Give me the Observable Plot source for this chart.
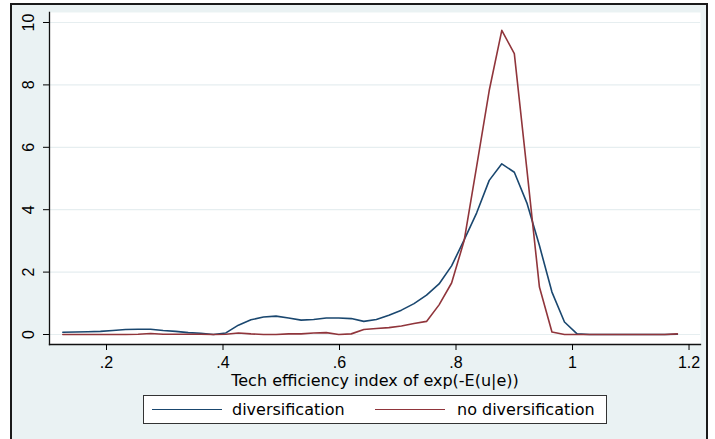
<!DOCTYPE html>
<html>
<head>
<meta charset="utf-8">
<script src="https://cdn.jsdelivr.net/npm/d3@7"></script>
<script src="https://cdn.jsdelivr.net/npm/@observablehq/plot@0.6"></script>
<style>
  body { margin: 0; background: #ffffff; }
  #wrap { position: relative; width: 715px; height: 439px; overflow: hidden; }
  #bg { position: absolute; left: 10px; top: 3px; width: 694px; height: 460px; background: #eaf2f3;
        border: 2px solid #1a1a1a; border-bottom: none; }
  #chart { position: absolute; left: 0; top: 0; }
  #legend { position: absolute; left: 143px; top: 395px; width: 462px; height: 27px; background: #ffffff;
            border: 1px solid #333333; font-family: "DejaVu Sans", sans-serif; font-size: 16px; color: #000; }
  #legend .sw { position: absolute; top: 13px; width: 70px; height: 0; border-top: 1.6px solid; }
  #legend .lb { position: absolute; top: 6px; line-height: 16px; white-space: nowrap; }
</style>
</head>
<body>
<div id="wrap">
  <div id="bg"></div>
  <div id="chart"></div>
  <div id="legend"></div>
</div>
<script>
// ---- data ----
const xGrid = [0.125, 0.1465, 0.1681, 0.1896, 0.2111, 0.2327, 0.2542, 0.2757, 0.2972, 0.3188,
  0.3403, 0.3618, 0.3834, 0.4049, 0.4264, 0.4480, 0.4695, 0.4910, 0.5126, 0.5341,
  0.5556, 0.5772, 0.5987, 0.6202, 0.6417, 0.6633, 0.6848, 0.7063, 0.7279, 0.7494,
  0.7709, 0.7924, 0.8140, 0.8355, 0.8570, 0.8786, 0.9001, 0.9216, 0.9432, 0.9647,
  0.9862, 1.0078, 1.0293, 1.0508, 1.0723, 1.0939, 1.1154, 1.1369, 1.1585, 1.1800];

const diversification = [0.07, 0.08, 0.09, 0.10, 0.13, 0.16, 0.17, 0.17, 0.13, 0.10,
  0.06, 0.04, 0.00, 0.05, 0.30, 0.47, 0.56, 0.59, 0.53, 0.46,
  0.48, 0.53, 0.53, 0.51, 0.42, 0.48, 0.62, 0.78, 0.99, 1.26,
  1.62, 2.20, 3.03, 3.90, 4.94, 5.47, 5.20, 4.22, 2.85, 1.36,
  0.40, 0.02, 0.00, 0.00, 0.00, 0.00, 0.00, 0.00, 0.00, 0.01];

const noDiversification = [0.00, 0.00, 0.00, 0.00, 0.00, 0.00, 0.01, 0.03, 0.01, 0.01,
  0.01, 0.01, 0.00, 0.01, 0.05, 0.02, 0.00, 0.00, 0.02, 0.02,
  0.05, 0.06, 0.00, 0.02, 0.16, 0.19, 0.22, 0.27, 0.35, 0.42,
  0.95, 1.65, 3.01, 5.40, 7.82, 9.75, 9.00, 5.30, 1.52, 0.08,
  0.00, 0.00, 0.00, 0.00, 0.00, 0.00, 0.00, 0.00, 0.00, 0.02];

const seriesNames = ["diversification", "no diversification"];
const seriesColors = ["#1a476f", "#90353b"];
const xTicks = [0.2, 0.4, 0.6, 0.8, 1, 1.2];
const yTicks = [0, 2, 4, 6, 8, 10];
const xLabel = "Tech efficiency index of exp(-E(u|e))";

// ---- build table ----
const rows = [];
xGrid.forEach((x, i) => {
  rows.push({x, y: diversification[i], s: seriesNames[0]});
  rows.push({x, y: noDiversification[i], s: seriesNames[1]});
});

const stataFmt = d => String(d).replace(/^0\./, ".");

const chart = Plot.plot({
  width: 715,
  height: 395,
  marginLeft: 49,
  marginRight: 15,
  marginTop: 12,
  marginBottom: 51,
  style: {background: "transparent", fontFamily: "'Liberation Sans', Arial, sans-serif", fontSize: "16px", color: "#000", overflow: "visible"},
  x: {domain: [0.10215, 1.2197]},
  y: {domain: [-0.3205, 10.3205]},
  color: {domain: seriesNames, range: seriesColors},
  marks: [
    Plot.frame({fill: "white", stroke: "none"}),
    Plot.gridY(yTicks, {stroke: "#e6eef0", strokeOpacity: 1, strokeWidth: 1.2}),
    Plot.line(rows, {x: "x", y: "y", z: "s", stroke: "s", strokeWidth: 1.6}),
    Plot.frame({anchor: "left", stroke: "#111", strokeWidth: 1.3}),
    Plot.frame({anchor: "bottom", stroke: "#111", strokeWidth: 1.3}),
    Plot.axisY(yTicks, {tickSize: 6, tickPadding: 10, tickRotate: -90, tickFormat: d => String(d), label: null, fontSize: 16}),
    Plot.axisX(xTicks, {tickSize: 6, tickPadding: 6, tickFormat: stataFmt, label: null, fontSize: 16}),
    Plot.axisX([], {tickSize: 0, label: xLabel, labelAnchor: "center", labelArrow: "none", labelOffset: 41,
                    fontFamily: "'DejaVu Sans', sans-serif", fontSize: 16})
  ]
});
document.getElementById("chart").appendChild(chart);

// ---- legend ----
const legend = document.getElementById("legend");
const swLeft = [8, 231];
const lbLeft = [88, 313];
seriesNames.forEach((name, i) => {
  const sw = document.createElement("div");
  sw.className = "sw";
  sw.style.left = swLeft[i] + "px";
  sw.style.borderTopColor = seriesColors[i];
  legend.appendChild(sw);
  const lb = document.createElement("span");
  lb.className = "lb";
  lb.style.left = lbLeft[i] + "px";
  lb.textContent = name;
  legend.appendChild(lb);
});
</script>
</body>
</html>
